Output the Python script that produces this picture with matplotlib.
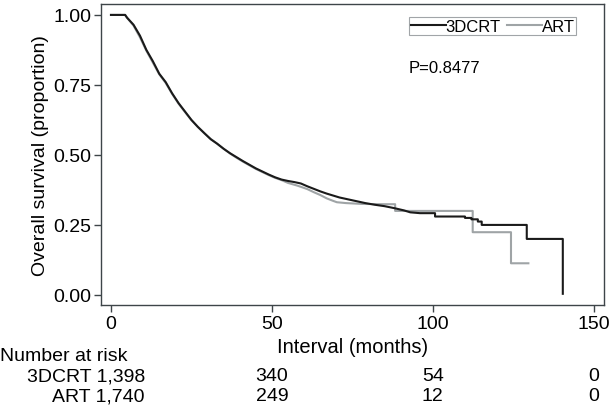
import numpy as np
import matplotlib
matplotlib.use('Agg')
from matplotlib import pyplot as plt
from matplotlib.transforms import blended_transform_factory

plt.rcParams['font.family'] = ['Liberation Sans', 'DejaVu Sans']

# Kaplan-Meier estimates (dense early events drawn as a line,
# later steps given as explicit corners)
t_3dcrt = [0, 4.4, 5, 7, 9, 11, 13, 15, 17, 19, 21, 23, 25, 27, 29, 31, 33, 35, 37, 39,
           41, 43, 45, 47, 49, 51, 53, 55, 57, 59, 61, 63, 65, 67, 69, 71, 73, 75, 77, 79,
           82, 85, 88, 91, 93, 96, 100.7, 100.7, 110, 110, 112, 112, 114, 114, 115.2, 115.2,
           129.2, 129.2, 140.4, 140.4]
s_3dcrt = [1.0, 1.0, 0.99, 0.965, 0.926, 0.875, 0.835, 0.79, 0.76, 0.72, 0.685, 0.655, 0.625, 0.6,
           0.578, 0.556, 0.54, 0.522, 0.506, 0.492, 0.478, 0.465, 0.452, 0.441, 0.43, 0.42, 0.412,
           0.407, 0.403, 0.398, 0.388, 0.379, 0.37, 0.362, 0.355, 0.348, 0.343, 0.338, 0.333, 0.328,
           0.322, 0.317, 0.31, 0.302, 0.295, 0.292, 0.292, 0.28, 0.28, 0.275, 0.275, 0.27, 0.27,
           0.262, 0.262, 0.25, 0.25, 0.2, 0.2, 0.004]

t_art = [0, 4.4, 5, 7, 9, 11, 13, 15, 17, 19, 21, 23, 25, 27, 29, 31, 33, 35, 37, 39,
         41, 43, 45, 47, 49, 51, 53, 55, 58, 61, 63, 65, 67, 69, 70.2, 73, 78, 84, 88.3, 88.3,
         112.4, 112.4, 124.3, 124.3, 129.7]
s_art = [1.0, 1.0, 0.99, 0.962, 0.92, 0.872, 0.83, 0.788, 0.757, 0.718, 0.683, 0.653, 0.624, 0.6,
         0.577, 0.557, 0.54, 0.522, 0.505, 0.49, 0.476, 0.463, 0.45, 0.439, 0.428, 0.418, 0.41,
         0.4, 0.39, 0.378, 0.367, 0.357, 0.345, 0.336, 0.331, 0.328, 0.325, 0.324, 0.324, 0.3,
         0.3, 0.224, 0.224, 0.113, 0.113]

risk_times = [0, 50, 100, 150]
risk_3dcrt = ['1,398', '340', '54', '0']
risk_art = ['1,740', '249', '12', '0']

black = '#1a1a1a'
grey = '#9fa4a6'
spine_col = '#3e4549'
fs = 14
fs_small = 12

fig = plt.figure(figsize=(6.12, 4.10), dpi=100)
ax = fig.add_axes([101 / 612, 1 - 306 / 410, 503 / 612, 301 / 410])

ax.plot(t_3dcrt, s_3dcrt, color=black, lw=1.5, label='3DCRT', zorder=3)
ax.plot(t_art, s_art, color=grey, lw=1.5, label='ART', zorder=2)

ax.set_xlim(-3.1, 153.2)
ax.set_ylim(-0.036, 1.039)
ax.set_xticks([0, 50, 100, 150])
ax.set_yticks([0, 0.25, 0.5, 0.75, 1.0])
ax.set_yticklabels(['0.00', '0.25', '0.50', '0.75', '1.00'])
ax.tick_params(direction='out', length=5, width=1, color=spine_col, labelsize=fs, pad=2)
for sp in ax.spines.values():
    sp.set_color(spine_col)
    sp.set_linewidth(1.0)

ax.set_xlabel('Interval (months)', fontsize=14.5, labelpad=4)
ax.set_ylabel('Overall survival (proportion)', fontsize=fs, labelpad=3)

leg = ax.legend(loc='upper left', bbox_to_anchor=(0.612, 0.957), ncol=2, fontsize=fs_small,
                frameon=True, fancybox=False, borderaxespad=0, borderpad=0.1,
                handlelength=2.1, handletextpad=0.0, columnspacing=0.37)
leg.get_frame().set_edgecolor('#8a8f92')
leg.get_frame().set_linewidth(0.8)

ax.text(0.612, 0.79, 'P=0.8477', transform=ax.transAxes, fontsize=fs_small, va='center', ha='left')

# number at risk table
tr = blended_transform_factory(ax.transData, fig.transFigure)
fig.text(0.0, 1 - 357 / 410, 'Number at risk', fontsize=fs, va='center', ha='left')
fig.text(145 / 612, 1 - 377 / 410, '3DCRT ' + risk_3dcrt[0], fontsize=fs, va='center', ha='right')
fig.text(145 / 612, 1 - 397 / 410, 'ART ' + risk_art[0], fontsize=fs, va='center', ha='right')
for t, a, b in zip(risk_times[1:], risk_3dcrt[1:], risk_art[1:]):
    ax.text(t, 1 - 377 / 410, a, transform=tr, fontsize=fs, va='center', ha='center')
    ax.text(t, 1 - 397 / 410, b, transform=tr, fontsize=fs, va='center', ha='center')

plt.savefig('out.png', dpi=100)
